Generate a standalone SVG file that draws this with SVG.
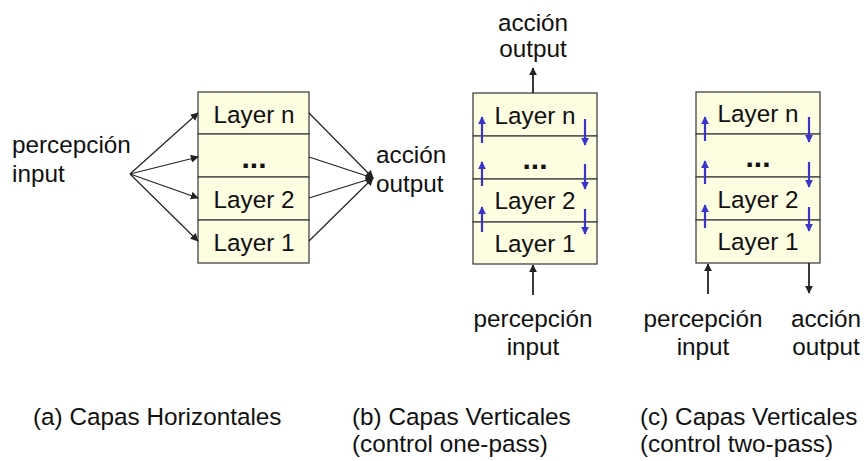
<svg xmlns="http://www.w3.org/2000/svg" width="865" height="461" viewBox="0 0 865 461">
<style>
text{font-family:"Liberation Sans",Arial,sans-serif;font-size:24.3px;fill:#111}
.c{text-anchor:middle}
.box{fill:#fdfde2;stroke:#444;stroke-width:1.3}
.dots{font-weight:bold;font-size:30px}
.k{stroke:#222;stroke-width:1.2;fill:none}
.kb{stroke:#222;stroke-width:1.8;fill:none}
.b{stroke:#3a35c8;stroke-width:2.2;fill:none}
</style>
<defs>
<marker id="ak" viewBox="0 0 10 10" refX="9" refY="5" markerWidth="8" markerHeight="8" markerUnits="userSpaceOnUse" orient="auto"><path d="M0,0L10,5L0,10z" fill="#222"/></marker>
<marker id="ab" viewBox="0 0 10 10" refX="9" refY="5" markerWidth="8" markerHeight="8" markerUnits="userSpaceOnUse" orient="auto"><path d="M0,0L10,5L0,10z" fill="#3a35c8"/></marker>
</defs>
<rect width="865" height="461" fill="#fff"/>

<g id="a-stack">
<rect class="box" x="198" y="92" width="111" height="42"/>
<rect class="box" x="198" y="134" width="111" height="43"/>
<rect class="box" x="198" y="177" width="111" height="43"/>
<rect class="box" x="198" y="220" width="111" height="43"/>
<text class="c" x="254" y="123">Layer n</text>
<text class="c dots" x="254" y="168">...</text>
<text class="c" x="254" y="208">Layer 2</text>
<text class="c" x="254" y="251">Layer 1</text>
</g>
<g id="a-input"><text x="12" y="153">percepción</text><text x="12" y="182">input</text></g>
<g id="a-output"><text x="376" y="163">acción</text><text x="376" y="192">output</text></g>

<g id="b-stack">
<rect class="box" x="473" y="93" width="124" height="43"/>
<rect class="box" x="473" y="136" width="124" height="43"/>
<rect class="box" x="473" y="179" width="124" height="43"/>
<rect class="box" x="473" y="222" width="124" height="42"/>
<text class="c" x="535" y="124">Layer n</text>
<text class="c dots" x="535" y="169">...</text>
<text class="c" x="535" y="209">Layer 2</text>
<text class="c" x="535" y="252">Layer 1</text>
</g>
<g id="b-output"><text class="c" x="533" y="31">acción</text><text class="c" x="533" y="57">output</text></g>
<g id="b-input"><text class="c" x="533" y="327">percepción</text><text class="c" x="533" y="355">input</text></g>

<g id="c-stack">
<rect class="box" x="696" y="92" width="124" height="42"/>
<rect class="box" x="696" y="134" width="124" height="43"/>
<rect class="box" x="696" y="177" width="124" height="43"/>
<rect class="box" x="696" y="220" width="124" height="43"/>
<text class="c" x="758" y="122">Layer n</text>
<text class="c dots" x="758" y="167">...</text>
<text class="c" x="758" y="208">Layer 2</text>
<text class="c" x="758" y="250">Layer 1</text>
</g>
<g id="c-input"><text class="c" x="703" y="327">percepción</text><text class="c" x="703" y="355">input</text></g>
<g id="c-output"><text class="c" x="826" y="327">acción</text><text class="c" x="826" y="355">output</text></g>

<g id="captions">
<text x="33" y="425">(a) Capas Horizontales</text>
<text x="352" y="425">(b) Capas Verticales</text>
<text x="352" y="452">(control one-pass)</text>
<text x="640" y="425">(c) Capas Verticales</text>
<text x="640" y="452">(control two-pass)</text>
</g>

<g id="connectors">
<path class="k" marker-end="url(#ak)" d="M130,174L198,113"/>
<path class="k" marker-end="url(#ak)" d="M130,174L198,157"/>
<path class="k" marker-end="url(#ak)" d="M130,174L198,198"/>
<path class="k" marker-end="url(#ak)" d="M130,174L198,241"/>
<path class="k" marker-end="url(#ak)" d="M309,113L373,178"/>
<path class="k" marker-end="url(#ak)" d="M309,157L373,178"/>
<path class="k" marker-end="url(#ak)" d="M309,198L373,178"/>
<path class="k" marker-end="url(#ak)" d="M309,241L373,178"/>

<path class="kb" marker-end="url(#ak)" d="M533,93L533,68"/>
<path class="kb" marker-end="url(#ak)" d="M533,295L533,265"/>
<path class="b" marker-end="url(#ab)" d="M482,143L482,117"/>
<path class="b" marker-end="url(#ab)" d="M482,186L482,162"/>
<path class="b" marker-end="url(#ab)" d="M482,232L482,207"/>
<path class="b" marker-end="url(#ab)" d="M585,119L585,145"/>
<path class="b" marker-end="url(#ab)" d="M585,164L585,189"/>
<path class="b" marker-end="url(#ab)" d="M585,209L585,234"/>

<path class="kb" marker-end="url(#ak)" d="M708,294L708,264"/>
<path class="kb" marker-end="url(#ak)" d="M809,263L809,293"/>
<path class="b" marker-end="url(#ab)" d="M705,141L705,117"/>
<path class="b" marker-end="url(#ab)" d="M705,184L705,161"/>
<path class="b" marker-end="url(#ab)" d="M705,228L705,205"/>
<path class="b" marker-end="url(#ab)" d="M809,117L809,142"/>
<path class="b" marker-end="url(#ab)" d="M809,162L809,187"/>
<path class="b" marker-end="url(#ab)" d="M809,207L809,231"/>
</g>
</svg>
